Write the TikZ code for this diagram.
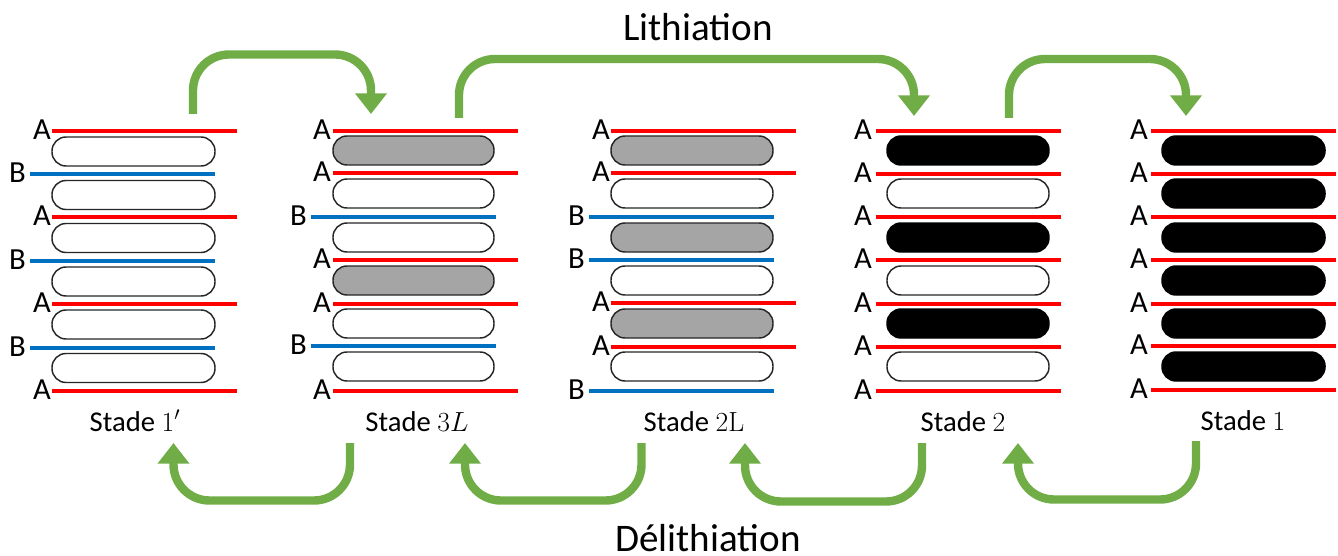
\documentclass[tikz,border=0pt]{standalone}
\usepackage[no-math]{fontspec}
\setmainfont{Carlito}
\usetikzlibrary{arrows.meta}
\definecolor{flowgreen}{HTML}{70AD47}
\definecolor{layerred}{HTML}{FF0000}
\definecolor{layerblue}{HTML}{0070C0}
\definecolor{pillgray}{HTML}{A5A5A5}
\tikzset{
  layerA/.style={draw=layerred,line width=3pt},
  layerB/.style={draw=layerblue,line width=3pt},
  pillW/.style={draw=black!85,line width=1.1pt,fill=white,rounded corners=10.5pt},
  pillG/.style={draw=black!85,line width=1.1pt,fill=pillgray,rounded corners=10.5pt},
  pillK/.style={draw=black,line width=1.1pt,fill=black,rounded corners=10.5pt},
  lab/.style={font=\fontsize{23pt}{23pt}\selectfont,inner sep=0pt},
  stage/.style={font=\fontsize{21.5pt}{22pt}\selectfont,inner sep=0pt,anchor=base},
  big/.style={font=\fontsize{29.3pt}{30pt}\selectfont,inner sep=0pt,anchor=base},
  flow/.style={draw=flowgreen,line width=6.3pt,rounded corners=27pt,
    -{Triangle[length=15.5pt,width=23pt]}},
}
% #1 id, #2 line start, #3 label offset for A, #4 pill left, #5 pill right, #6 layers y/type, #7 pills y/style
\newcommand\stackdraw[7]{%
  \foreach \yy/\tt in {#6}{%
    \if\tt A
      \draw[layerA] (#2,\yy+0.7) -- (#2+185,\yy+0.7);
      \node[lab] (#1l\yy) at (#2-#3,\yy) {A};
    \else
      \draw[layerB] (#2-22,\yy+0.7) -- (#2+163,\yy+0.7);
      \node[lab] (#1l\yy) at (#2-34.5,\yy) {B};
    \fi
  }%
  \foreach \yy/\st in {#7}{%
    \draw[\st] (#4,\yy) rectangle (#5,\yy+29);
  }%
}
\begin{document}
\begin{tikzpicture}[x=0.75pt,y=-0.75pt]
\useasboundingbox (0,0) rectangle (1338,556);
\stackdraw{a}{52}{10}{52}{215}
  {130/A,173/B,216/A,260/B,303/A,347/B,390/A}
  {137/pillW,180.5/pillW,223.5/pillW,267/pillW,310/pillW,353.5/pillW}
\stackdraw{b}{333}{11}{333}{494}
  {130/A,172/A,216/B,259/A,303/A,345/B,390/A}
  {136/pillG,179/pillW,223/pillW,266/pillG,309/pillW,352/pillW}
\stackdraw{c}{611}{10}{611}{773}
  {130/A,172/A,216/B,259/B,302/A,346/A,390/B}
  {136/pillG,179/pillW,223/pillG,266/pillW,309/pillG,352/pillW}
\stackdraw{d}{876}{13}{887}{1049}
  {130/A,173/A,216/A,259/A,303/A,346/A,390/A}
  {136/pillK,179/pillW,223/pillK,266/pillW,309/pillK,352/pillW}
\stackdraw{e}{1151}{12}{1162}{1325}
  {130/A,173/A,216/A,259/A,303/A,345/A,389/A}
  {136/pillK,179/pillK,223/pillK,266/pillK,309/pillK,352/pillK}

\node[stage] (s1) at (135,431) {Stade $1'$};
\node[stage] (s3) at (417,431) {Stade $3L$};
\node[stage] (s2l) at (694,431) {Stade $2\mathrm{L}$};
\node[stage] (s2) at (963,431) {Stade $2$};
\node[stage] (s0) at (1243,430) {Stade $1$};
\node[big] (lith) at (698,41) {Lithiation};
\node[big] (delith) at (708,551) {Délithiation};

\coordinate (u1s) at (193,114); \coordinate (u1e) at (371,114);
\coordinate (u2s) at (459,118); \coordinate (u2e) at (914,116);
\coordinate (u3s) at (1009,118); \coordinate (u3e) at (1186,116);
\coordinate (d1s) at (350,443); \coordinate (d1e) at (173.5,443);
\coordinate (d2s) at (641.5,443); \coordinate (d2e) at (465,443);
\coordinate (d3s) at (922,443); \coordinate (d3e) at (745,443);
\coordinate (d4s) at (1196,441); \coordinate (d4e) at (1018,443);

\draw[flow] (u1s) -- (193,54.5) -- (371,54.5) -- (u1e);
\draw[flow] (u2s) -- (459,59) -- (914,59) -- (u2e);
\draw[flow] (u3s) -- (1009,59) -- (1186,59) -- (u3e);
\draw[flow] (d1s) -- (350,500.5) -- (173.5,500.5) -- (d1e);
\draw[flow] (d2s) -- (641.5,500.5) -- (465,500.5) -- (d2e);
\draw[flow] (d3s) -- (922,501.5) -- (745,501.5) -- (d3e);
\draw[flow] (d4s) -- (1196,499.5) -- (1018,499.5) -- (d4e);
\end{tikzpicture}
\end{document}
